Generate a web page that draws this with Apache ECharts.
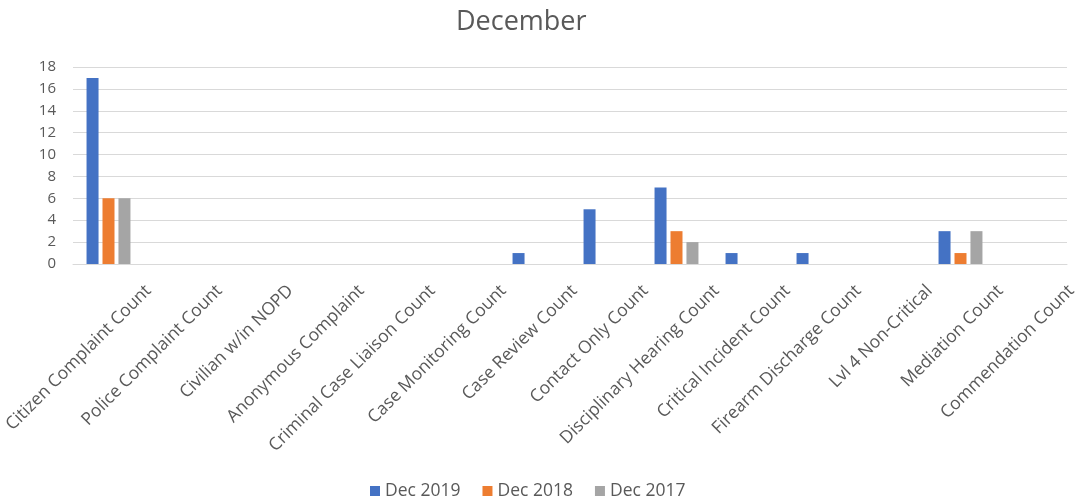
<!DOCTYPE html>
<html>
<head>
<meta charset="utf-8">
<script src="https://cdn.jsdelivr.net/npm/echarts@6/dist/echarts.min.js"></script>
<style>html,body{margin:0;padding:0;background:#fff;}#c{width:1077px;height:497px;}</style>
</head>
<body>
<div id="c"></div>
<script>
const categories = ["Citizen Complaint Count","Police Complaint Count","Civilian w/in NOPD","Anonymous Complaint","Criminal Case Liaison Count","Case Monitoring Count","Case Review Count","Contact Only Count","Disciplinary Hearing Count","Critical Incident Count","Firearm Discharge Count","Lvl 4 Non-Critical","Mediation Count","Commendation Count"];
const dec2019 = [17,null,null,null,null,null,1,5,7,1,1,null,3,null];
const dec2018 = [6,null,null,null,null,null,null,null,3,null,null,null,1,null];
const dec2017 = [6,null,null,null,null,null,null,null,2,null,null,null,3,null];
const seriesNames = ["Dec 2019","Dec 2018","Dec 2017"];
const yTicks = {min:0,max:18,interval:2};

const chart = echarts.init(document.getElementById('c'));
const font = '"Segoe UI", "Open Sans", "DejaVu Sans", sans-serif';
const txt = '#595959';
const labelShift = 40;
chart.setOption({
  animation:false,
  title:{text:'December',left:451,top:4,textStyle:{fontFamily:font,fontSize:27,fontWeight:'normal',color:txt}},
  legend:{top:477,left:365,itemWidth:10,itemHeight:10,itemGap:22,icon:'rect',
    textStyle:{fontFamily:font,fontSize:17.5,color:txt}},
  color:['#4472C4','#ED7D31','#A5A5A5'],
  grid:[
    {left:73,right:10,top:67,bottom:233,outerBoundsMode:'none'},
    {left:73+labelShift,right:10-labelShift,top:67,bottom:233,outerBoundsMode:'none'}
  ],
  xAxis:[
    {type:'category',data:categories,gridIndex:0,
      axisLine:{lineStyle:{color:'#d9d9d9'}},axisTick:{show:false},axisLabel:{show:false}},
    {type:'category',data:categories,gridIndex:1,
      axisLine:{show:false},axisTick:{show:false},
      axisLabel:{rotate:45,interval:0,fontFamily:font,fontSize:17.5,color:txt,margin:24}}
  ],
  yAxis:[
    {type:'value',gridIndex:0,min:yTicks.min,max:yTicks.max,interval:yTicks.interval,
      axisLine:{show:false},axisTick:{show:false},
      splitLine:{lineStyle:{color:'#d9d9d9'}},
      axisLabel:{fontFamily:font,fontSize:15,color:txt,margin:17}},
    {type:'value',gridIndex:1,min:yTicks.min,max:yTicks.max,show:false,splitLine:{show:false}}
  ],
  series:[
    {name:seriesNames[0],type:'bar',data:dec2019,barWidth:12,barGap:'33%'},
    {name:seriesNames[1],type:'bar',data:dec2018,barWidth:12,barGap:'33%'},
    {name:seriesNames[2],type:'bar',data:dec2017,barWidth:12,barGap:'33%'}
  ]
});
</script>
</body>
</html>
